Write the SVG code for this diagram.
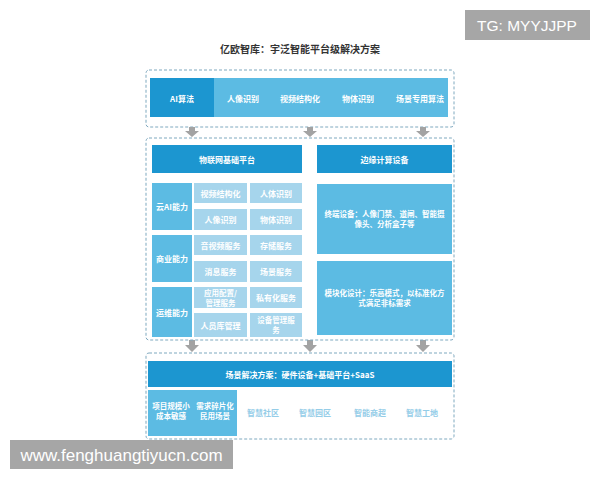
<svg xmlns="http://www.w3.org/2000/svg" width="600" height="480" viewBox="0 0 600 480">
<defs>
<style>
text{font-family:"Noto Sans CJK SC","Noto Sans",sans-serif;text-anchor:middle;dominant-baseline:central}
.dash{fill:none;stroke:#7fa9bf;stroke-width:1;stroke-dasharray:3,2}
.dk{fill:#1c96d0}
.md{fill:#5cbbe3}
.lt{fill:#a6d5ec}
.w{fill:#ffffff;font-size:8px;font-weight:bold}
.s{font-size:7.5px}
.g{fill:#95cde8;font-size:8px;font-weight:bold}
.arr{fill:#a3a3a3}
</style>
</defs>
<rect width="600" height="480" fill="#ffffff"/>
<g id="tg"><rect x="465" y="10" width="125" height="30" fill="#a6a6a6"/><text x="527" y="25.5" style="fill:#fff;font-family:'Liberation Sans',sans-serif;font-size:15.5px">TG: MYYJJPP</text></g>
<text id="title" x="300" y="48" style="font-size:10px;font-weight:bold;fill:#333">亿欧智库：宇泛智能平台级解决方案</text>

<g id="top">
<rect class="dash" x="146" y="70" width="308" height="57" rx="3"/>
<rect class="md" x="214" y="78" width="234" height="39"/>
<rect class="dk" x="150" y="78" width="64" height="39"/>
<text class="w" x="182" y="98">AI算法</text>
<text class="w" x="243" y="98">人像识别</text>
<text class="w" x="300" y="98">视频结构化</text>
<text class="w" x="358" y="98">物体识别</text>
<text class="w" x="420" y="98">场景专用算法</text>
</g>

<g id="connectors">
<path class="arr" d="M189,127h6v4h4l-7,6l-7,-6h4z"/>
<path class="arr" d="M307,127h6v4h4l-7,6l-7,-6h4z"/>
<path class="arr" d="M420,127h6v4h4l-7,6l-7,-6h4z"/>
<path class="arr" d="M189,340h6v5h4l-7,7l-7,-7h4z"/>
<path class="arr" d="M307,340h6v5h4l-7,7l-7,-7h4z"/>
<path class="arr" d="M420,340h6v5h4l-7,7l-7,-7h4z"/>
</g>

<g id="middle">
<rect class="dash" x="146" y="138" width="308" height="202" rx="3"/>
</g>
<g id="iot">
<rect class="dk" x="152" y="145" width="150" height="28"/>
<text class="w" x="227" y="159">物联网基础平台</text>
<rect class="md" x="152" y="183" width="40" height="47"/>
<text class="w" x="172" y="206.5">云AI能力</text>
<rect class="lt" x="194" y="183" width="53" height="20"/><text class="w" x="220.5" y="193">视频结构化</text>
<rect class="lt" x="250" y="183" width="52" height="20"/><text class="w" x="276" y="193">人体识别</text>
<rect class="lt" x="194" y="209" width="53" height="21"/><text class="w" x="220.5" y="219.5">人像识别</text>
<rect class="lt" x="250" y="209" width="52" height="21"/><text class="w" x="276" y="219.5">物体识别</text>
<rect class="md" x="152" y="235" width="40" height="47"/>
<text class="w" x="172" y="258.5">商业能力</text>
<rect class="lt" x="194" y="235" width="53" height="20"/><text class="w" x="220.5" y="245">音视频服务</text>
<rect class="lt" x="250" y="235" width="52" height="20"/><text class="w" x="276" y="245">存储服务</text>
<rect class="lt" x="194" y="261" width="53" height="21"/><text class="w" x="220.5" y="271.5">消息服务</text>
<rect class="lt" x="250" y="261" width="52" height="21"/><text class="w" x="276" y="271.5">场景服务</text>
<rect class="md" x="152" y="287" width="40" height="50"/>
<text class="w" x="172" y="312">运维能力</text>
<rect class="lt" x="194" y="287" width="53" height="21"/><text class="w s" x="220.5" y="292.5">应用配置/</text><text class="w s" x="220.5" y="302.5">管理服务</text>
<rect class="lt" x="250" y="287" width="52" height="21"/><text class="w" x="276" y="297.5">私有化服务</text>
<rect class="lt" x="194" y="313" width="53" height="24"/><text class="w" x="220.5" y="325">人员库管理</text>
<rect class="lt" x="250" y="313" width="52" height="24"/><text class="w s" x="276" y="319">设备管理服</text><text class="w s" x="276" y="329">务</text>
</g>
<g id="edge">
<rect class="dk" x="317" y="145" width="135" height="28"/>
<text class="w" x="384.5" y="159">边缘计算设备</text>
<rect class="md" x="317" y="184" width="135" height="70"/>
<text class="w s" x="384.5" y="213">终端设备：人像门禁、道闸、智能摄</text>
<text class="w s" x="384.5" y="223">像头、分析盒子等</text>
<rect class="md" x="317" y="261" width="135" height="74"/>
<text class="w s" x="384.5" y="292">模块化设计：乐高模式，以标准化方</text>
<text class="w s" x="384.5" y="302">式满足非标需求</text>
</g>

<g id="bottom">
<rect class="dash" x="146" y="353" width="308" height="86" rx="3"/>
<rect class="dk" x="148" y="361" width="304" height="26"/>
<text class="w" x="300" y="374">场景解决方案：硬件设备+基础平台+SaaS</text>
<rect class="md" x="148" y="390" width="89" height="46"/>
<text class="w s" x="171" y="405">项目规模小</text><text class="w s" x="171" y="415">成本敏感</text>
<text class="w s" x="215" y="405">需求碎片化</text><text class="w s" x="215" y="415">民用场景</text>
<text class="g" x="263" y="412">智慧社区</text>
<text class="g" x="315" y="412">智慧园区</text>
<text class="g" x="370" y="412">智能商超</text>
<text class="g" x="422" y="412">智慧工地</text>
</g>

<g id="watermark"><rect x="10" y="440" width="223" height="29" fill="#a6a6a6"/><text x="121.5" y="455" style="fill:#fff;font-family:'Liberation Sans',sans-serif;font-size:17px">www.fenghuangtiyucn.com</text></g>
</svg>
